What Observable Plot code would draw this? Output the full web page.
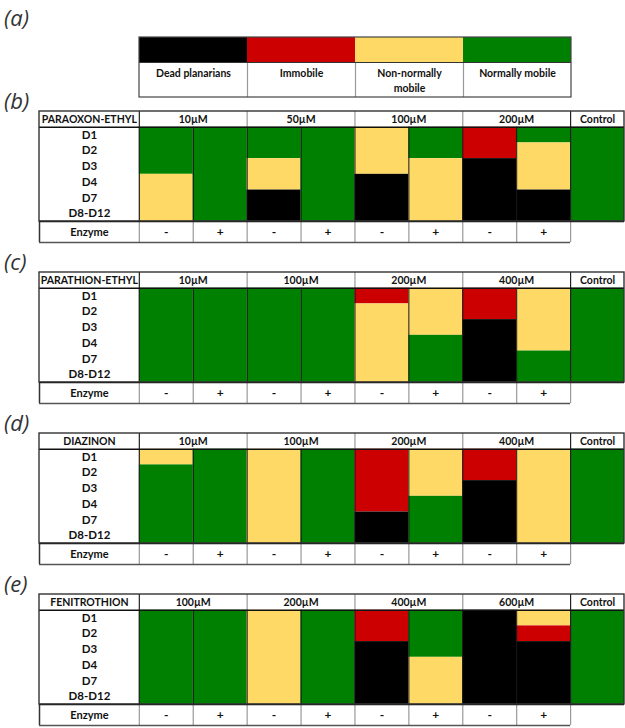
<!DOCTYPE html>
<html><head><meta charset="utf-8">
<script src="https://cdn.jsdelivr.net/npm/d3@7"></script>
<script src="https://cdn.jsdelivr.net/npm/@observablehq/plot@0.6"></script>
<style>
body{margin:0;background:#fff;}
#fig{position:relative;width:625px;height:728px;overflow:hidden;}
.lab{position:absolute;left:4px;font:italic 400 22px "Open Sans",sans-serif;line-height:22px;color:#333;white-space:nowrap;}
.blk{position:absolute;left:0;}
</style></head><body><div id="fig"></div>
<script>
// ---- data ----
const statusNames = ["Dead planarians","Immobile","Non-normally mobile","Normally mobile"];
const legendLabels = ["Dead planarians","Immobile","Non-normally\nmobile","Normally mobile"];
const statusCodes = ["K","R","Y","G"]; // K dead, R immobile, Y non-normally mobile, G normally mobile
const statusColors = ["#000000","#cc0000","#ffd966","#008000"];
const days = ["D1","D2","D3","D4","D7","D8-D12"];
const enzymeSigns = ["-","+","-","+","-","+","-","+"];

// one string per column (4 concentrations x enzyme -/+, then Control), one letter per day
const paraoxonConc = ["10µM","50µM","100µM","200µM"];
const paraoxonCells = ["GGGYYY","GGGGGG","GGYYKK","GGGGGG","YYYKKK","GGYYYY","RRKKKK","GYYYKK","GGGGGG"];
const parathionConc = ["10µM","100µM","200µM","400µM"];
const parathionCells = ["GGGGGG","GGGGGG","GGGGGG","GGGGGG","RYYYYY","YYYGGG","RRKKKK","YYYYGG","GGGGGG"];
const diazinonConc = ["10µM","100µM","200µM","400µM"];
const diazinonCells = ["YGGGGG","GGGGGG","YYYYYY","GGGGGG","RRRRKK","YYYGGG","RRKKKK","YYYYYY","GGGGGG"];
const fenitrothionConc = ["100µM","200µM","400µM","600µM"];
const fenitrothionCells = ["GGGGGG","GGGGGG","YYYYYY","GGGGGG","RRKKKK","GGGYYY","KKKKKK","YRKKKK","GGGGGG"];

const panels = [
  {label:"(b)", name:"PARAOXON-ETHYL", conc:paraoxonConc, cols:paraoxonCells, top:111},
  {label:"(c)", name:"PARATHION-ETHYL", conc:parathionConc, cols:parathionCells, top:272},
  {label:"(d)", name:"DIAZINON", conc:diazinonConc, cols:diazinonCells, top:433},
  {label:"(e)", name:"FENITROTHION", conc:fenitrothionConc, cols:fenitrothionCells, top:594}
];

// ---- drawing ----
const fig = document.getElementById("fig");
const FONT = "Lato";
const FS = 10.5;
const INK = "#111";

function addLabel(txt, top){
  const d = document.createElement("div");
  d.className = "lab"; d.textContent = txt; d.style.top = top + "px";
  fig.appendChild(d);
}
function addBlock(svg, top){
  svg.classList.add("blk"); svg.style.top = top + "px";
  fig.appendChild(svg);
}

// legend
const legend = Plot.plot({
  width:625, height:100, marginTop:37, marginBottom:3, marginLeft:139, marginRight:54,
  x:{domain:[0,4], axis:null},
  y:{domain:[0,2.4], reverse:true, axis:null},
  color:{domain:statusNames, range:statusColors},
  marks:[
    Plot.rect(statusNames,{x1:(d,i)=>i, x2:(d,i)=>i+1, y1:0, y2:1, fill:d=>d}),
    Plot.ruleX(d3.range(1,statusNames.length),{y1:1, y2:2.4, stroke:"#999", strokeWidth:1.2}),
    Plot.ruleY([1],{x1:0, x2:4, stroke:"#333"}),
    Plot.rect([0],{x1:0, x2:4, y1:0, y2:2.4, fill:"none", stroke:"#444", strokeWidth:1.2}),
    Plot.text(legendLabels,{x:(d,i)=>i+0.5, y:1.16, text:d=>d, lineAnchor:"top", lineHeight:1.43,
      fontFamily:FONT, fontSize:FS, fontWeight:"bold", fill:INK})
  ]
});
addBlock(legend, 0);
addLabel("(a)", 6);

const nameW = 100/54;
const nCols = 9;
const nTreat = enzymeSigns.length;
const nDays = days.length;
const yEnz = nDays + 1.34;

function panelPlot(p){
  const cells = [];
  p.cols.forEach((s,ci)=>{
    let start = 0;
    for (let r=1; r<=s.length; r++){
      if (r===s.length || s[r]!==s[start]){
        cells.push({x1:ci, x2:ci+1, y1:start, y2:r, status:statusNames[statusCodes.indexOf(s[start])]});
        start = r;
      }
    }
  });
  const headers = [{x:-nameW/2, t:p.name}]
    .concat(p.conc.map((c,i)=>({x:2*i+1, t:c})))
    .concat([{x:nTreat+0.5, t:"Control"}]);
  const txt = {fontFamily:FONT, fontSize:FS, fontWeight:"bold", fill:INK};
  return Plot.plot({
    width:625, height:157, marginTop:24, marginBottom:2, marginLeft:39, marginRight:1,
    x:{domain:[-nameW, nCols], axis:null},
    y:{domain:[-1, yEnz], reverse:true, axis:null},
    color:{domain:statusNames, range:statusColors},
    marks:[
      Plot.rect(cells,{x1:"x1", x2:"x2", y1:"y1", y2:"y2", fill:"status"}),
      // header separators
      Plot.ruleX(d3.range(2,nTreat,2),{y1:-1, y2:0, stroke:"#999", strokeWidth:1.2}),
      // data column separators
      Plot.ruleX(d3.range(1,nTreat),{y1:0, y2:nDays, stroke:"#111", strokeWidth:1}),
      Plot.ruleX([0, nTreat],{y1:-1, y2:nDays, stroke:"#222", strokeWidth:1.2}),
      // enzyme row
      Plot.ruleX(d3.range(0,nTreat+1),{y1:nDays, y2:yEnz, stroke:"#999", strokeWidth:1.2}),
      Plot.ruleX([-nameW],{y1:nDays, y2:yEnz, stroke:"#333", strokeWidth:1.5}),
      Plot.ruleY([yEnz],{x1:-nameW, x2:nTreat, stroke:"#555", strokeWidth:1.5}),
      // horizontal heavy lines
      Plot.ruleY([0, nDays],{x1:-nameW, x2:nCols, stroke:"#111", strokeWidth:1.6}),
      Plot.rect([0],{x1:-nameW, x2:nCols, y1:-1, y2:nDays, fill:"none", stroke:"#333", strokeWidth:1.4}),
      // texts
      Plot.text(headers,{x:"x", y:-0.5, text:"t", ...txt}),
      Plot.text(days,{x:-nameW/2, y:(d,i)=>i+0.5, text:d=>d, ...txt, fontSize:11.5}),
      Plot.text(["Enzyme"],{x:-nameW/2, y:(nDays+yEnz)/2, text:d=>d, ...txt, fontSize:11}),
      Plot.text(enzymeSigns,{x:(d,i)=>i+0.5, y:(nDays+yEnz)/2, text:d=>d, ...txt, fontSize:12})
    ]
  });
}

panels.forEach(p=>{
  addBlock(panelPlot(p), p.top-24);
  addLabel(p.label, p.top-22);
});
</script></body></html>
